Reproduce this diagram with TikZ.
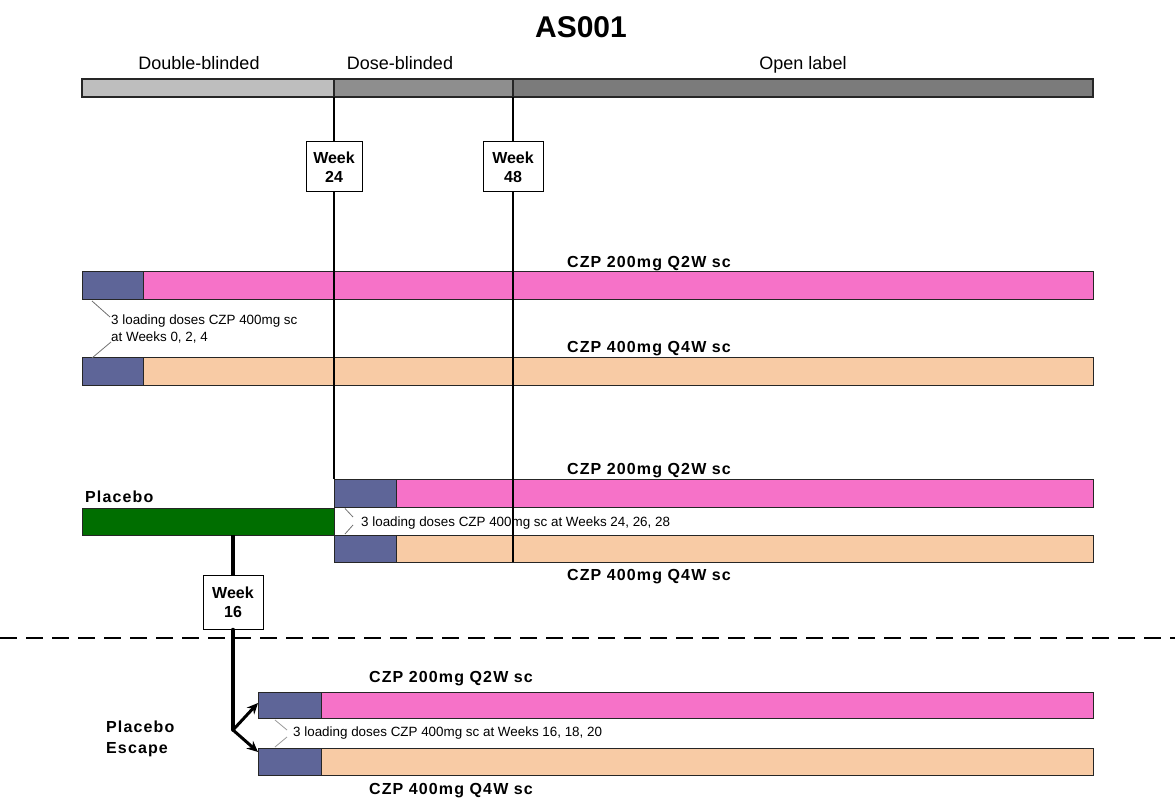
\documentclass[tikz,border=0pt]{standalone}
\usepackage{fontspec}
\setmainfont{Liberation Sans}
\newfontfamily\armfont[LetterSpace=7]{Liberation Sans}
\usetikzlibrary{calc,arrows.meta}
\definecolor{grayA}{RGB}{190,190,190}
\definecolor{grayB}{RGB}{142,142,142}
\definecolor{grayC}{RGB}{123,123,123}
\definecolor{dose}{RGB}{94,101,152}
\definecolor{pinkbar}{RGB}{246,114,200}
\definecolor{peach}{RGB}{248,203,165}
\definecolor{placebo}{RGB}{0,110,0}
\begin{document}
\begin{tikzpicture}[x=1pt,y=-1pt,
  bar/.style={draw=black!85,line width=1pt,inner sep=0pt,outer sep=0pt,anchor=north west},
  topbar/.style={bar,line width=1.4pt,minimum height=18pt},
  phase/.style={font=\fontsize{18}{21}\selectfont,anchor=base,inner sep=0pt},
  armlabel/.style={font=\armfont\bfseries\fontsize{16}{19}\selectfont,anchor=base,inner sep=0pt},
  grouplabel/.style={font=\armfont\bfseries\fontsize{16}{19}\selectfont,anchor=base west,inner sep=0pt},
  loadtext/.style={font=\fontsize{13.4}{16}\selectfont,anchor=base west,inner sep=0pt},
  weekbox/.style={draw=black,line width=1pt,fill=white,align=center,
    font=\bfseries\fontsize{16}{19}\selectfont,minimum height=50pt,inner sep=0pt},
  tick/.style={line width=1.4pt,black},
  callout/.style={line width=0.8pt,black!55},
  escape/.style={line width=3.5pt,black},
]
\useasboundingbox (0,0) rectangle (1175,799);

% title
\node[font=\bfseries\fontsize{30}{36}\selectfont,anchor=base,inner sep=0pt] (title) at (581,38) {AS001};

% phase bar
\node[topbar,fill=grayA,minimum width=252pt] (topA) at (82,79) {};
\node[topbar,fill=grayB,minimum width=179pt] (topB) at (334,79) {};
\node[topbar,fill=grayC,minimum width=580pt] (topC) at (513,79) {};
\node[phase] (phA) at (199,70) {Double-blinded};
\node[phase] (phB) at (400,70) {Dose-blinded};
\node[phase] (phC) at (803,70) {Open label};

% arm 1 and arm 2
\node[bar,fill=dose,minimum width=61pt,minimum height=28pt] (a1L) at (82,272) {};
\node[bar,fill=pinkbar,minimum width=950pt,minimum height=28pt] (a1R) at (143,272) {};
\node[bar,fill=dose,minimum width=61pt,minimum height=27pt] (a2L) at (82,358) {};
\node[bar,fill=peach,minimum width=950pt,minimum height=27pt] (a2R) at (143,358) {};
\node[armlabel] (a1T) at (649,268) {CZP 200mg Q2W sc};
\node[armlabel] (a2T) at (649,353) {CZP 400mg Q4W sc};

% placebo arms
\node[grouplabel] (plT) at (85,502.7) {Placebo};
\node[bar,fill=placebo,minimum width=252pt,minimum height=27pt] (pl) at (82,508) {};
\node[bar,fill=dose,minimum width=62pt,minimum height=28pt] (p1L) at (334,479) {};
\node[bar,fill=pinkbar,minimum width=697pt,minimum height=28pt] (p1R) at (396,479) {};
\node[bar,fill=dose,minimum width=62pt,minimum height=27pt] (p2L) at (334,535) {};
\node[bar,fill=peach,minimum width=697pt,minimum height=27pt] (p2R) at (396,535) {};
\node[armlabel] (p1T) at (649,474) {CZP 200mg Q2W sc};
\node[armlabel] (p2T) at (649,580) {CZP 400mg Q4W sc};

% escape arms
\node[grouplabel] (peA) at (106,732) {Placebo};
\node[grouplabel] (peB) at (106,753) {Escape};
\node[bar,fill=dose,minimum width=63pt,minimum height=26pt] (e1L) at (258,692) {};
\node[bar,fill=pinkbar,minimum width=772pt,minimum height=26pt] (e1R) at (321,692) {};
\node[bar,fill=dose,minimum width=63pt,minimum height=27pt] (e2L) at (258,748) {};
\node[bar,fill=peach,minimum width=772pt,minimum height=27pt] (e2R) at (321,748) {};
\node[armlabel] (e1T) at (451,682) {CZP 200mg Q2W sc};
\node[armlabel] (e2T) at (451,794) {CZP 400mg Q4W sc};

% time lines
\coordinate (v48b) at (topC.south west |- p2R.south);
\draw[tick] (topB.south west) -- (p1L.north west);
\draw[tick] (topC.south west) -- (v48b);
\node[weekbox,minimum width=56pt] (w24) at (334,167) {Week\\24};
\node[weekbox,minimum width=60pt] (w48) at (513,167) {Week\\48};

% loading dose notes
\node[loadtext] (ld1a) at (111,325) {3 loading doses CZP 400mg sc};
\node[loadtext] (ld1b) at (111,341.5) {at Weeks 0, 2, 4};
\coordinate (c1a) at (92,301);
\coordinate (c1b) at (110,317);
\coordinate (c1c) at (111,342);
\coordinate (c1d) at (92,358);
\draw[callout] (c1a) -- (c1b);
\draw[callout] (c1c) -- (c1d);

\node[loadtext] (ld2) at (361,526.7) {3 loading doses CZP 400mg sc at Weeks 24, 26, 28};
\coordinate (c2a) at (345,508.5);
\coordinate (c2b) at (353,517);
\coordinate (c2c) at (353,525);
\coordinate (c2d) at (345,534);
\draw[callout] (c2a) -- (c2b);
\draw[callout] (c2c) -- (c2d);

\node[loadtext] (ld3) at (293,736.7) {3 loading doses CZP 400mg sc at Weeks 16, 18, 20};
\coordinate (c3a) at (275,720);
\coordinate (c3b) at (287,730);
\coordinate (c3c) at (287,737);
\coordinate (c3d) at (275,747);
\draw[callout,black!40] (c3a) -- (c3b);
\draw[callout,black!40] (c3c) -- (c3d);

% dashed separator
\coordinate (dl) at (0,638);
\coordinate (dr) at (1175,638);
\draw[line width=2.5pt,dash pattern=on 17pt off 9pt] (dl) -- (dr);

% week 16 escape
\node[weekbox,minimum width=60pt,minimum height=54pt] (w16) at (233,602) {Week\\16};
\coordinate (s16) at (w16.north |- pl.south);
\coordinate (piv) at (w16.south |- 0,730);
\coordinate (t1) at ($(e1L.south west)+(0,-15)$);
\coordinate (t2) at ($(e2L.north west)+(0,4)$);
\draw[escape] (s16) -- (w16.north);
\draw[escape,line cap=round] (w16.south) -- (piv);
\draw[line width=3pt,-{Stealth[length=11pt,width=10pt]}] (piv) -- (t1);
\draw[line width=3pt,-{Stealth[length=11pt,width=10pt]}] (piv) -- (t2);
\end{tikzpicture}
\end{document}
